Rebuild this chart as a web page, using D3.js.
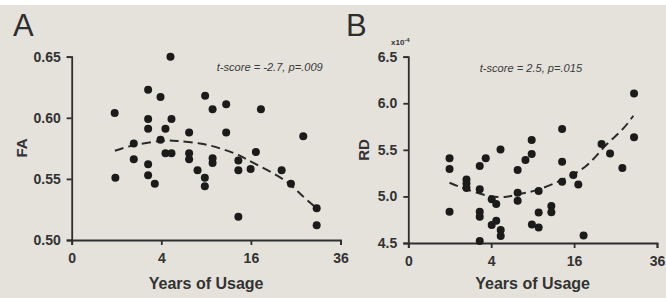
<!DOCTYPE html>
<html><head><meta charset="utf-8">
<script src="https://cdn.jsdelivr.net/npm/d3@7"></script>
<style>
html,body{margin:0;padding:0;background:#e4e2da;}
svg{display:block;}
text{font-family:"Liberation Sans",Arial,sans-serif;}
</style></head>
<body>
<svg id="chart" width="666" height="298"></svg>
<script>
// ---- Data ----
const xTicks = [0, 4, 16, 36];
const xTitle = "Years of Usage";

// Panel A: FA vs years of usage
const yearsA = [0.92,0.95,1.92,1.92,2.91,2.91,2.91,2.91,2.91,3.44,3.93,3.93,4.38,4.38,4.86,4.96,4.96,6.87,6.87,6.87,7.89,8.87,8.83,8.83,9.89,9.89,9.89,11.89,11.89,13.84,13.84,13.84,15.95,16.9,17.84,21.96,23.95,26.72,29.9,29.9];
const faA = [0.604,0.551,0.579,0.566,0.623,0.599,0.591,0.562,0.553,0.546,0.617,0.582,0.591,0.571,0.650,0.599,0.571,0.588,0.571,0.566,0.557,0.618,0.551,0.544,0.607,0.567,0.563,0.611,0.588,0.565,0.557,0.519,0.558,0.572,0.607,0.557,0.546,0.585,0.526,0.512];
const fitYearsA = [0.93,1.92,3.93,5.61,8.18,10.94,13.88,16.36,21.96,25.96,29.9];
const fitFA = [0.573,0.5775,0.581,0.581,0.579,0.575,0.5695,0.5633,0.5505,0.538,0.526];
const yTicksA = [0.50, 0.55, 0.60, 0.65];
const statA = "t-score = -2.7, p=.009";

// Panel B: RD (x10^-4) vs years of usage
const yearsB = [0.99,0.99,0.99,1.97,1.97,1.97,2.97,3.49,2.97,2.97,2.97,2.97,4.05,4.50,4.05,4.50,4.97,4.97,4.95,6.96,6.96,6.96,7.99,8.86,8.86,8.89,9.89,9.89,9.89,11.91,11.91,13.77,13.77,13.77,15.85,16.82,17.88,21.74,23.69,26.67,29.66,29.66];
const rdB = [5.409,5.294,4.836,5.181,5.138,5.090,5.326,5.409,5.076,4.836,4.782,4.521,4.969,4.918,4.693,4.739,4.639,4.575,5.505,5.283,5.040,4.954,5.391,5.455,5.605,4.698,4.666,5.058,4.827,4.897,4.829,5.723,5.372,5.158,5.230,5.128,4.580,5.562,5.460,5.305,6.106,5.634];
const fitYearsB = [0.99,1.97,3.88,5.61,6.94,9.92,13.95,18.46,22.53,26.52,29.47];
const fitRD = [5.147,5.076,5.004,4.997,5.02,5.076,5.183,5.33,5.54,5.712,5.866];
const yTicksB = [4.5, 5.0, 5.5, 6.0, 6.5];
const statB = "t-score = 2.5, p=.015";

// ---- Drawing ----
const svg = d3.select("#chart");
const ink = "#2e2e2e";
svg.append("rect").attr("x",0).attr("y",0).attr("width",666).attr("height",298).attr("fill","#e4e2da");
svg.append("rect").attr("x",0).attr("y",0).attr("width",666).attr("height",5).attr("fill","#ffffff");

function panel(opt){
  const x = d3.scaleSqrt().domain([0,36]).range(opt.xr);
  const y = d3.scaleLinear().domain(opt.yd).range(opt.yr);
  const g = svg.append("g");

  // panel letter
  g.append("text").attr("x",opt.letterX).attr("y",36).attr("font-size",31).attr("fill",ink).text(opt.letter);

  // axes
  const xa = g.append("g").attr("transform",`translate(0,${opt.yr[0]})`)
    .call(d3.axisBottom(x).tickValues(xTicks).tickSize(5).tickSizeOuter(5).tickPadding(8).tickFormat(d3.format("d")));
  const ya = g.append("g").attr("transform",`translate(${opt.xr[0]},0)`)
    .call(d3.axisLeft(y).tickValues(opt.yTicks).tickSize(5).tickSizeOuter(5).tickPadding(6).tickFormat(d3.format(opt.fmt)));
  [xa,ya].forEach(a=>{
    a.selectAll("path,line").attr("stroke",ink).attr("stroke-width",1.8);
    a.selectAll("text").attr("fill","#333").attr("font-size",14).attr("font-weight","bold")
      .attr("font-family","'Liberation Sans',Arial,sans-serif");
  });

  // axis titles
  g.append("text").attr("x",(opt.xr[0]+opt.xr[1])/2).attr("y",289).attr("text-anchor","middle")
    .attr("font-size",16).attr("font-weight","bold").attr("fill","#333").text(xTitle);
  g.append("text").attr("transform",`translate(${opt.ylabX},${opt.ylabY}) rotate(-90)`).attr("text-anchor","middle")
    .attr("font-size",15).attr("font-weight","bold").attr("fill","#333").text(opt.ylab);

  // fit line
  const line = d3.line().x(d=>x(d[0])).y(d=>y(d[1])).curve(d3.curveNatural);
  g.append("path").datum(opt.fx.map((v,i)=>[v,opt.fy[i]])).attr("d",line)
    .attr("fill","none").attr("stroke","#2a2a2a").attr("stroke-width",2).attr("stroke-dasharray","9,5");

  // points
  g.selectAll("circle.pt").data(opt.px.map((v,i)=>[v,opt.py[i]])).join("circle").attr("class","pt")
    .attr("cx",d=>x(d[0])).attr("cy",d=>y(d[1])).attr("r",4).attr("fill","#1b1b1b");

  // stat annotation
  g.append("text").attr("x",opt.statX).attr("y",opt.statY).attr("font-size",11.1).attr("font-style","italic")
    .attr("fill","#3a3a3a").text(opt.stat);
  return g;
}

panel({letter:"A",letterX:13,xr:[71.7,340.5],yd:[0.50,0.65],yr:[240,56.7],yTicks:yTicksA,fmt:".2f",
  ylab:"FA",ylabX:27,ylabY:148,px:yearsA,py:faA,fx:fitYearsA,fy:fitFA,stat:statA,statX:216.7,statY:70.5});
const gB = panel({letter:"B",letterX:346,xr:[408.3,657],yd:[4.5,6.5],yr:[243,56.7],yTicks:yTicksB,fmt:".1f",
  ylab:"RD",ylabX:369,ylabY:150,px:yearsB,py:rdB,fx:fitYearsB,fy:fitRD,stat:statB,statX:479.7,statY:71.5});

// multiplier label for RD
const mult = gB.append("text").attr("x",391).attr("y",45).attr("font-size",8).attr("font-weight","bold").attr("fill","#333");
mult.append("tspan").text("x10");
mult.append("tspan").attr("dy",-3).attr("font-size",6).text("-4");
</script>
</body></html>
